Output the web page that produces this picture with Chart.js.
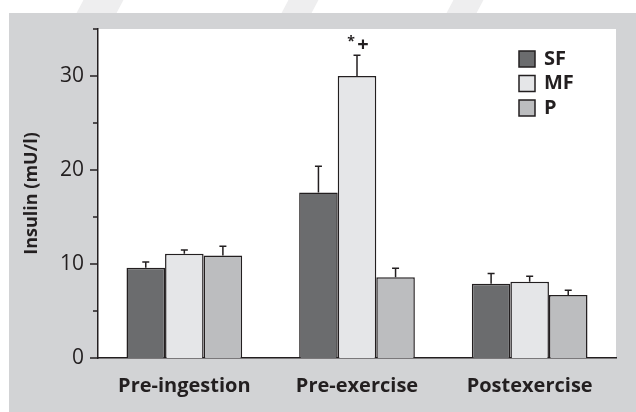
<!DOCTYPE html>
<html>
<head>
<meta charset="utf-8">
<script src="https://cdn.jsdelivr.net/npm/chart.js@4.4.1/dist/chart.umd.min.js"></script>
<style>
  html, body { margin: 0; padding: 0; background: #ffffff; overflow: hidden; }
  #wrap { position: relative; width: 636px; height: 412px; }
  #panel { position: absolute; left: 9px; top: 13px; right: 0; bottom: 0; background: #d2d3d5; }
  .mark { position: absolute; background: #eeeeef; transform: skewX(-28deg); }
  canvas { position: absolute; left: 0; top: 0; }
</style>
</head>
<body>
<div id="wrap">
  <div class="mark" style="left:80px; top:0; width:40px; height:13px;"></div>
  <div class="mark" style="left:285px; top:0; width:30px; height:13px;"></div>
  <div class="mark" style="left:450px; top:0; width:30px; height:13px;"></div>
  <div id="panel"></div>
  <canvas id="chart" width="636" height="412"></canvas>
</div>
<script>
// ── Data ────────────────────────────────────────────────────
const categories = ["Pre-ingestion", "Pre-exercise", "Postexercise"];
const seriesNames = ["SF", "MF", "P"];
const sfValues = [9.6, 17.6, 7.9];
const mfValues = [11.1, 30.0, 8.1];
const pValues = [10.9, 8.6, 6.7];
const sfErrors = [0.6, 2.8, 1.1];
const mfErrors = [0.4, 2.2, 0.6];
const pErrors = [1.0, 0.95, 0.5];
const yTickLabels = [0, 10, 20, 30];

const INK = "#231f20";
const FONT = "'Open Sans', sans-serif";
const colors = ["#6b6c6e", "#e5e6e8", "#bcbdbf"];

// ── Plugins ─────────────────────────────────────────────────
const plotBg = {
  id: "plotBg",
  beforeDraw(chart) {
    const { ctx, chartArea: a } = chart;
    ctx.save();
    ctx.fillStyle = "#ffffff";
    ctx.fillRect(a.left, a.top, a.right - a.left, a.bottom - a.top);
    ctx.restore();
  }
};

// major / minor ticks on the y axis
const yTicks = {
  id: "yTicks",
  afterDraw(chart) {
    const { ctx } = chart;
    const y = chart.scales.y;
    const x0 = chart.chartArea.left;
    ctx.save();
    ctx.strokeStyle = INK;
    ctx.lineWidth = 1.5;
    for (let v = 0; v <= 35; v += 5) {
      const py = y.getPixelForValue(v);
      const len = v % 10 === 0 ? 8 : 5;
      ctx.beginPath();
      ctx.moveTo(x0 - len, py);
      ctx.lineTo(x0, py);
      ctx.stroke();
    }
    ctx.restore();
  }
};

// upward error bars + significance marks + legend
const extras = {
  id: "extras",
  afterDatasetsDraw(chart) {
    const { ctx } = chart;
    const y = chart.scales.y;
    ctx.save();
    ctx.strokeStyle = INK;
    ctx.lineWidth = 1.5;
    chart.data.datasets.forEach((ds, di) => {
      const meta = chart.getDatasetMeta(di);
      meta.data.forEach((bar, i) => {
        const top = y.getPixelForValue(ds.data[i] + ds.errors[i]);
        ctx.beginPath();
        ctx.moveTo(bar.x, bar.y);
        ctx.lineTo(bar.x, top);
        ctx.moveTo(bar.x - 3.5, top);
        ctx.lineTo(bar.x + 3.5, top);
        ctx.stroke();
      });
    });

    // "*+" above MF pre-exercise
    const mfBar = chart.getDatasetMeta(1).data[1];
    const errTop = y.getPixelForValue(mfValues[1] + mfErrors[1]);
    ctx.fillStyle = INK;
    ctx.textAlign = "center";
    ctx.textBaseline = "middle";
    ctx.font = "bold 14px " + FONT;
    ctx.fillText("*", mfBar.x - 6, errTop - 13);
    ctx.font = "bold 20px " + FONT;
    ctx.fillText("+", mfBar.x + 6, errTop - 10);

    // legend
    const a = chart.chartArea;
    const lx = a.right - 97;
    chart.data.datasets.forEach((ds, di) => {
      const ly = a.top + 22 + di * 24.5;
      ctx.fillStyle = ds.backgroundColor;
      ctx.fillRect(lx, ly, 16, 16);
      ctx.strokeRect(lx, ly, 16, 16);
      ctx.fillStyle = INK;
      ctx.textAlign = "left";
      ctx.font = "bold 20px " + FONT;
      ctx.fillText(ds.label, lx + 25, ly + 8);
    });
    ctx.restore();
  }
};

// ── Chart ───────────────────────────────────────────────────
const allValues = [sfValues, mfValues, pValues];
const allErrors = [sfErrors, mfErrors, pErrors];

new Chart(document.getElementById("chart").getContext("2d"), {
  type: "bar",
  data: {
    labels: categories,
    datasets: seriesNames.map((name, i) => ({
      label: name,
      data: allValues[i],
      errors: allErrors[i],
      backgroundColor: colors[i],
      borderColor: INK,
      borderWidth: 1.5,
      borderSkipped: "bottom",
      categoryPercentage: 0.67,
      barPercentage: 1.0
    }))
  },
  options: {
    responsive: false,
    animation: false,
    devicePixelRatio: 1,
    layout: { padding: { left: 9, right: 20, top: 29, bottom: 10 } },
    plugins: { legend: { display: false }, tooltip: { enabled: false } },
    scales: {
      x: {
        grid: { display: false, drawTicks: false },
        border: { display: true, color: INK, width: 1.5 },
        ticks: { color: INK, font: { family: FONT, size: 20, weight: "bold" }, padding: 16 },
        afterFit: (s) => { s.height = 44; }
      },
      y: {
        min: 0,
        max: 35,
        grid: { display: false, drawTicks: false },
        border: { display: true, color: INK, width: 1.5 },
        ticks: {
          stepSize: 5,
          color: INK,
          padding: 14,
          font: { family: FONT, size: 21 },
          callback: (v) => (yTickLabels.includes(v) ? v : "")
        },
        title: {
          display: true,
          text: "Insulin (mU/l)",
          color: INK,
          font: { family: FONT, size: 18, weight: "bold" },
          padding: { top: 12, bottom: 0 }
        },
        afterFit: (s) => { s.width = 89; }
      }
    }
  },
  plugins: [plotBg, yTicks, extras]
});
</script>
</body>
</html>
